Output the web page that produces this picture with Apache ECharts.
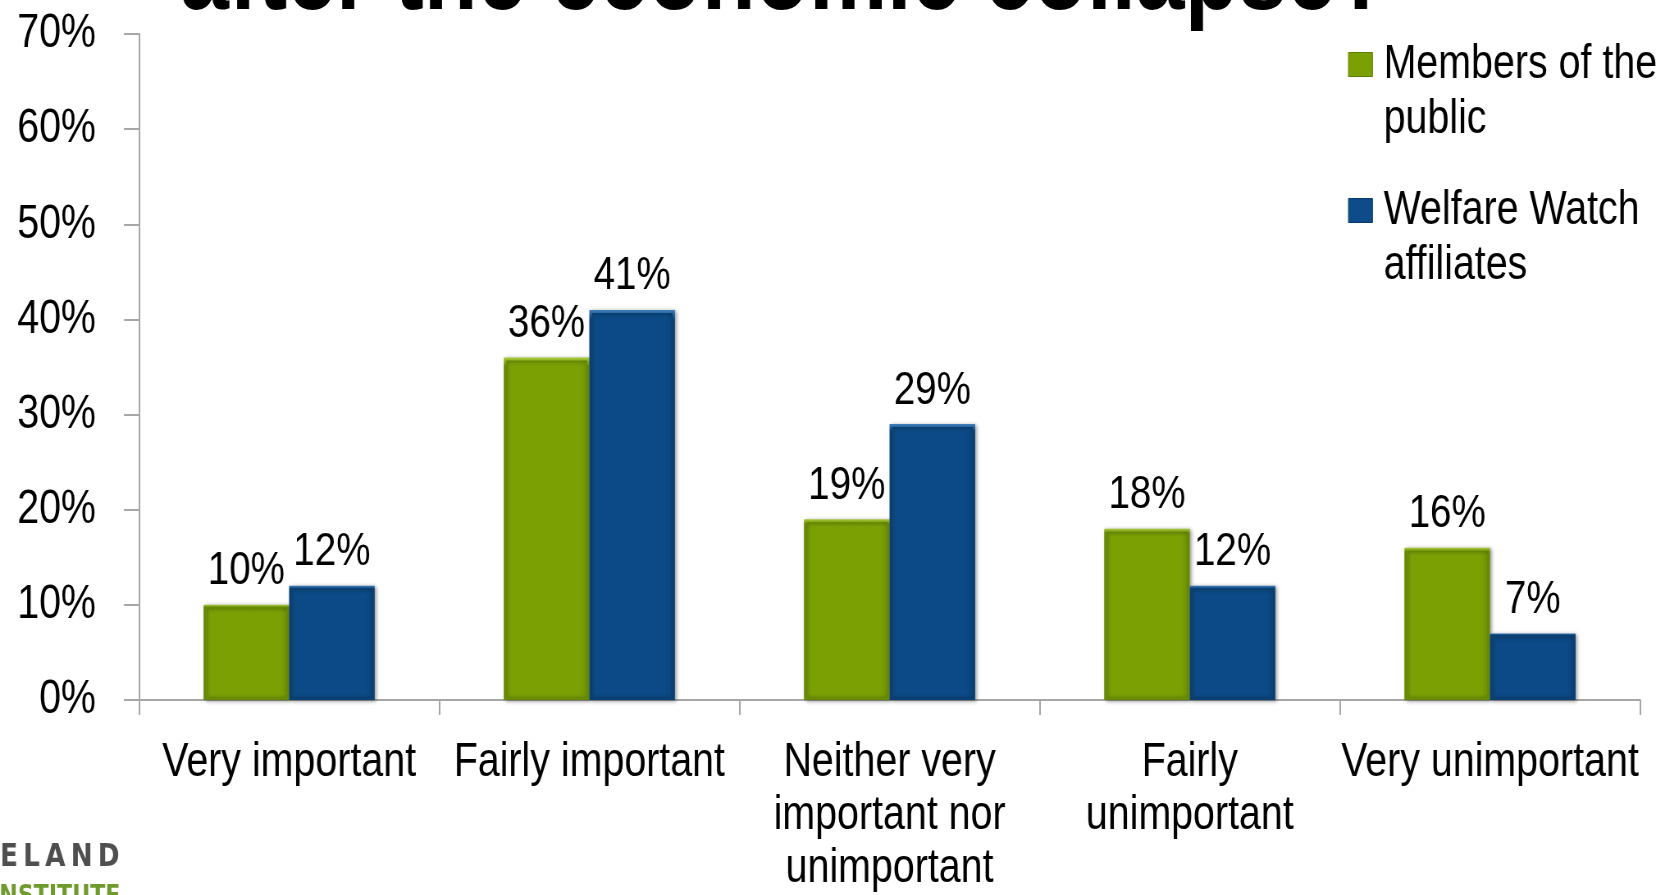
<!DOCTYPE html>
<html>
<head>
<meta charset="utf-8">
<script src="https://cdn.jsdelivr.net/npm/echarts@6/dist/echarts.min.js"></script>
<style>
  html, body { margin: 0; padding: 0; background: #ffffff; overflow: hidden; }
  #wrap { width: 1660px; height: 895px; overflow: hidden; }
  /* The chart is laid out on a wider canvas and squeezed horizontally,
     which turns the sans-serif text into a narrow face. */
  #chart { width: 2024px; height: 895px; transform: scaleX(0.8202); transform-origin: 0 0; }
</style>
</head>
<body>
<div id="wrap"><div id="chart"></div></div>
<script>
// Survey responses by group
const categories = [
  'Very important',
  'Fairly important',
  'Neither very\nimportant nor\nunimportant',
  'Fairly\nunimportant',
  'Very unimportant'
];
const publicValues = [10, 36, 19, 18, 16];
const affiliateValues = [12, 41, 29, 12, 7];
const seriesNames = ['Members of the\npublic', 'Welfare Watch\naffiliates'];
const yTicks = { min: 0, max: 70, interval: 10 };

// horizontal squeeze factor applied by the CSS transform above
const K = 1660 / 2024;
const sx = v => v / K;

const FONT = "'Liberation Sans', Arial, sans-serif";
const AXIS_GREY = '#a6a6a6';

function barFill(edge, mid, dark) {
  return new echarts.graphic.LinearGradient(0, 0, 1, 0, [
    { offset: 0, color: edge },
    { offset: 0.1, color: mid },
    { offset: 0.9, color: mid },
    { offset: 1, color: dark }
  ]);
}
function bevel(light, dark) {
  return new echarts.graphic.LinearGradient(0, 0, 0, 1, [
    { offset: 0, color: light },
    { offset: 0.025, color: dark },
    { offset: 1, color: dark }
  ]);
}

const greenStyle = {
  color: barFill('#86aa10', '#7aa004', '#6a8c04'),
  borderColor: bevel('#a9cc3a', '#678a03'),
  borderWidth: 3,
  shadowColor: 'rgba(0,0,0,0.35)',
  shadowBlur: 4,
  shadowOffsetX: 2,
  shadowOffsetY: 1
};
const blueStyle = {
  color: barFill('#15548f', '#0b4a86', '#0a4076'),
  borderColor: bevel('#3f7fbe', '#093f72'),
  borderWidth: 3,
  shadowColor: 'rgba(0,0,0,0.35)',
  shadowBlur: 4,
  shadowOffsetX: 2,
  shadowOffsetY: 1
};

const valueLabel = {
  show: true,
  position: 'top',
  distance: 10,
  formatter: '{c}%',
  fontFamily: FONT,
  fontSize: 47,
  color: '#000000'
};

const chart = echarts.init(document.getElementById('chart'), null, { renderer: 'canvas' });

chart.setOption({
  backgroundColor: '#ffffff',
  animation: false,
  title: {
    text: 'after the economic collapse?',
    left: sx(180),
    top: -74,
    padding: 0,
    textStyle: {
      fontFamily: FONT,
      fontSize: 107,
      fontWeight: 'bold',
      color: '#000000'
    }
  },
  legend: {
    orient: 'vertical',
    left: sx(1348),
    top: -18,
    padding: 0,
    itemWidth: sx(24),
    itemHeight: 24,
    itemGap: -19,
    icon: 'rect',
    formatter: name => '\n' + name,
    data: [
      { name: seriesNames[0], itemStyle: { color: '#7aa004', borderColor: '#5d7d03', borderWidth: 1 } },
      { name: seriesNames[1], itemStyle: { color: '#0d4c88', borderColor: '#083a6c', borderWidth: 1 } }
    ],
    textStyle: {
      fontFamily: FONT,
      fontSize: 48,
      lineHeight: 55,
      color: '#000000',
      padding: [0, 0, 0, sx(7)]
    }
  },
  grid: {
    left: sx(139),
    right: sx(20),
    top: 34,
    bottom: 189,
    containLabel: false
  },
  xAxis: {
    type: 'category',
    data: categories,
    boundaryGap: true,
    axisLine: { show: true, lineStyle: { color: AXIS_GREY, width: 2 } },
    axisTick: { show: true, length: 15, lineStyle: { color: AXIS_GREY, width: 2 } },
    axisLabel: {
      interval: 0,
      margin: 36,
      fontFamily: FONT,
      fontSize: 48,
      lineHeight: 53,
      color: '#000000'
    }
  },
  yAxis: {
    type: 'value',
    min: yTicks.min,
    max: yTicks.max,
    interval: yTicks.interval,
    axisLine: { show: true, lineStyle: { color: AXIS_GREY, width: 2 } },
    axisTick: { show: true, length: sx(15), lineStyle: { color: AXIS_GREY, width: 2 } },
    splitLine: { show: false },
    axisLabel: {
      margin: sx(43),
      formatter: '{value}%',
      fontFamily: FONT,
      fontSize: 48,
      color: '#000000'
    }
  },
  series: [
    {
      name: seriesNames[0],
      type: 'bar',
      data: publicValues,
      barGap: '0%',
      barCategoryGap: '43%',
      itemStyle: greenStyle,
      label: valueLabel
    },
    {
      name: seriesNames[1],
      type: 'bar',
      data: affiliateValues,
      barGap: '0%',
      barCategoryGap: '43%',
      itemStyle: blueStyle,
      label: valueLabel
    }
  ],
  graphic: [
    {
      type: 'text',
      left: 0,
      top: 842,
      style: {
        text: 'E\u2009L\u2009A\u2009N\u2009D',
        font: "bold 32px 'DejaVu Sans', sans-serif",
        fill: '#4f4f4f'
      }
    },
    {
      type: 'text',
      left: -11,
      top: 883,
      style: {
        text: 'INSTITUTE',
        font: "bold 27px 'DejaVu Sans', sans-serif",
        fill: '#6f9a2c'
      }
    }
  ]
});
</script>
</body>
</html>
